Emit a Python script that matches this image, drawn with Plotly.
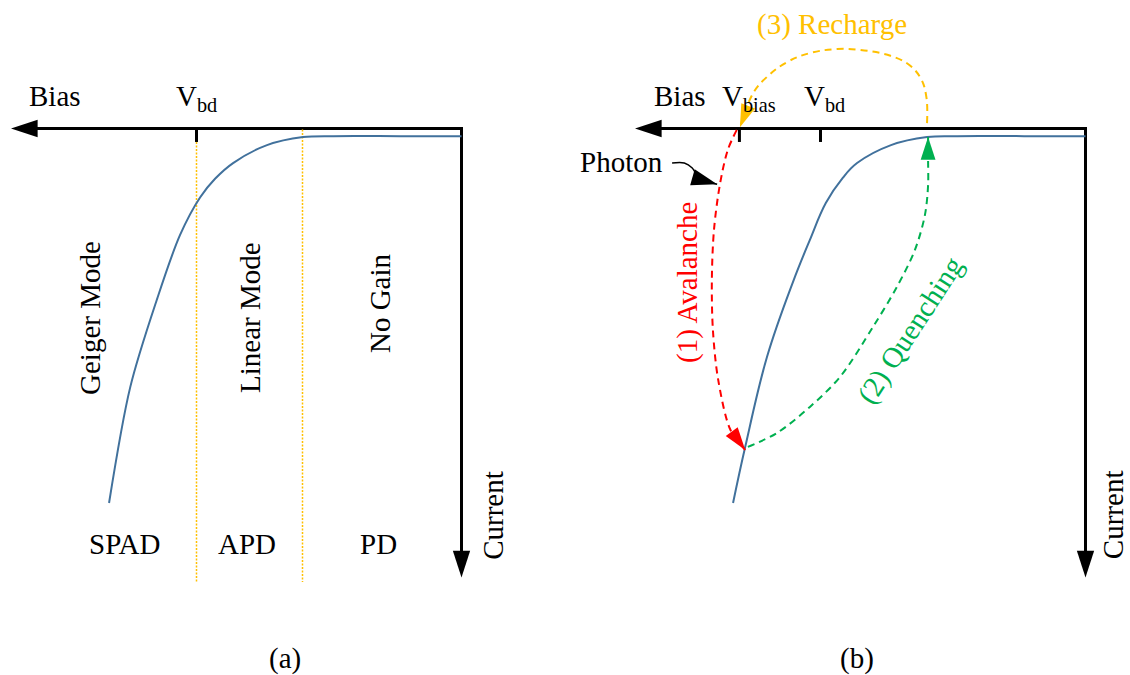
import plotly.graph_objects as go

# ---------------- data (bias / current in arbitrary units) ----------------
BIAS_AXIS_END = 8.5          # arrow tip of the Bias axis
CURRENT_AXIS_END = 10.0      # arrow tip of the Current axis
V_BD = 5.0                   # breakdown voltage
V_BIAS = 6.53                # operating bias of the SPAD (panel b)
APD_PD_EDGE = 3.0            # boundary between linear mode and no gain
TICK_LEN = 0.3
REGION_LINE_END = 10.1

# I-V curve, panel (a)
IV_BIAS_A = [0.0, 1.16, 2.42, 2.99, 3.67, 4.31, 4.65, 4.93, 5.31, 5.75, 6.25, 6.65]
IV_CURRENT_A = [0.17, 0.17, 0.17, 0.19, 0.37, 0.77, 1.12, 1.53, 2.37, 3.82, 5.76, 8.34]
# I-V curve, panel (b)
IV_BIAS_B = [0.0, 1.16, 2.42, 2.99, 3.67, 4.31, 4.58, 4.90, 5.20, 5.52, 6.01, 6.42, 6.65]
IV_CURRENT_B = [0.17, 0.17, 0.17, 0.19, 0.37, 0.77, 1.10, 1.66, 2.48, 3.42, 5.09, 7.09, 8.34]

# (1) Avalanche path
AVAL_BIAS = [6.58, 6.75, 6.90, 7.01, 7.05, 7.03, 6.93, 6.70, 6.42]
AVAL_CURRENT = [0.03, 0.48, 1.26, 2.26, 3.37, 4.49, 5.60, 6.71, 7.16]
# (2) Quenching path
QUENCH_BIAS = [6.37, 5.82, 5.20, 4.63, 4.01, 3.56, 3.22, 3.03, 2.97, 2.97, 2.97]
QUENCH_CURRENT = [7.09, 6.78, 6.20, 5.53, 4.42, 3.53, 2.71, 1.93, 1.26, 0.70, 0.19]
# (3) Recharge path
RECH_BIAS = [2.99, 3.00, 3.10, 3.33, 3.68, 4.25, 4.69, 5.20, 5.63, 6.01, 6.27, 6.52]
RECH_CURRENT = [-0.12, -0.68, -1.10, -1.42, -1.62, -1.75, -1.77, -1.68, -1.48, -1.15, -0.79, -0.03]
# Photon pointer
PHOTON_BIAS = [7.80, 7.57, 7.42, 7.32, 7.22, 6.95]
PHOTON_CURRENT = [0.77, 0.77, 0.88, 1.06, 1.15, 1.24]

# ---------------- layout constants ----------------
W, H = 1130, 675
PX_PER_BIAS = 53.0
PX_PER_CURRENT = 44.9
ORIGIN_Y = 128.5
ORIGIN_X_A = 461.5
ORIGIN_X_B = 1085.5

FONT = "Liberation Serif, Times New Roman, serif"
FS = 29
BLUE = "#41719C"
GOLD = "#FFC000"
RED = "#FF0000"
GREEN = "#00B050"

fig = go.Figure()


def refs(panel):
    return ("x", "y") if panel == "a" else ("x2", "y2")


def line(xs, ys, panel, color, width, dash=None, shape="linear", head=0, smoothing=0.9):
    xr, yr = refs(panel)
    mode = "lines"
    marker = None
    if head:
        mode = "lines+markers"
        marker = dict(symbol="arrow", size=[0] * (len(xs) - 1) + [head],
                      angleref="previous", color=color, opacity=1,
                      line=dict(width=0))
    fig.add_trace(go.Scatter(
        x=xs, y=ys, mode=mode, xaxis=xr, yaxis=yr, marker=marker,
        line=dict(color=color, width=width, dash=dash, shape=shape, smoothing=smoothing),
        hoverinfo="skip", showlegend=False))


annotations = []


def label(panel, text, x, y, color="black", angle=0, size=FS):
    xr, yr = refs(panel)
    annotations.append(dict(
        x=x, y=y, xref=xr, yref=yr, text=text, showarrow=False,
        textangle=angle, xanchor="center", yanchor="middle", borderpad=0,
        font=dict(family=FONT, size=size, color=color)))


for p in ("a", "b"):
    # axes with arrow heads
    line([0, BIAS_AXIS_END], [0, 0], p, "black", 3, head=28)
    line([0, 0], [-0.035, CURRENT_AXIS_END], p, "black", 3, head=28)
    # V_bd tick
    line([V_BD, V_BD], [0, TICK_LEN], p, "black", 3)

# panel (a) region separators
line([V_BD, V_BD], [TICK_LEN, REGION_LINE_END], "a", GOLD, 1.5, dash="2px,1.5px")
line([APD_PD_EDGE, APD_PD_EDGE], [0.02, REGION_LINE_END], "a", GOLD, 1.5, dash="2px,1.5px")

# I-V curves
line(IV_BIAS_A, IV_CURRENT_A, "a", BLUE, 2, shape="spline")
line(IV_BIAS_B, IV_CURRENT_B, "b", BLUE, 2, shape="spline", smoothing=1.1)

# panel (b) extras
line([V_BIAS, V_BIAS], [0, TICK_LEN], "b", "black", 3)
line(AVAL_BIAS, AVAL_CURRENT, "b", RED, 2, dash="7px,5px", shape="spline", head=24)
line(QUENCH_BIAS, QUENCH_CURRENT, "b", GREEN, 2, dash="7px,5px", shape="spline", head=24)
line(RECH_BIAS, RECH_CURRENT, "b", GOLD, 2, dash="7px,5px", shape="spline", head=24, smoothing=1.1)
line(PHOTON_BIAS, PHOTON_CURRENT, "b", "black", 1.5, shape="spline", head=27)

# labels, panel (a)
label("a", "Bias", 7.67, -0.73)
label("a", "V<sub>bd</sub>", 5.0, -0.69)
label("a", "Geiger Mode", 7.01, 4.22, angle=-90)
label("a", "Linear Mode", 3.99, 4.22, angle=-90)
label("a", "No Gain", 1.54, 3.89, angle=-90)
label("a", "SPAD", 6.35, 9.25)
label("a", "APD", 4.04, 9.25)
label("a", "PD", 1.56, 9.25)
label("a", "Current", -0.59, 8.61, angle=-90)
label("a", "(a)", 3.33, 11.80)
# labels, panel (b)
label("b", "Bias", 7.65, -0.73)
label("b", "V<sub>bias</sub>", 6.35, -0.69)
label("b", "V<sub>bd</sub>", 4.93, -0.69)
label("b", "(3) Recharge", 4.78, -2.32, color=GOLD)
label("b", "Photon", 8.76, 0.75)
label("b", "(1) Avalanche", 7.50, 3.44, color=RED, angle=-90)
label("b", "(2) Quenching", 3.31, 4.49, color=GREEN, angle=-57)
label("b", "Current", -0.52, 8.61, angle=-90)
label("b", "(b)", 4.31, 11.80)

yr = [(H - ORIGIN_Y) / PX_PER_CURRENT, -ORIGIN_Y / PX_PER_CURRENT]
ax_common = dict(visible=False, showgrid=False, zeroline=False, fixedrange=True)
fig.update_layout(
    width=W, height=H, margin=dict(l=0, r=0, t=0, b=0),
    paper_bgcolor="white", plot_bgcolor="white", showlegend=False,
    xaxis=dict(domain=[0, 0.5], range=[ORIGIN_X_A / PX_PER_BIAS, (ORIGIN_X_A - W / 2) / PX_PER_BIAS], anchor="y", **ax_common),
    yaxis=dict(domain=[0, 1], range=yr, anchor="x", **ax_common),
    xaxis2=dict(domain=[0.5, 1], range=[(ORIGIN_X_B - W / 2) / PX_PER_BIAS, (ORIGIN_X_B - W) / PX_PER_BIAS], anchor="y2", **ax_common),
    yaxis2=dict(domain=[0, 1], range=yr, anchor="x2", **ax_common),
    annotations=annotations,
)

# remove the default 8 px page margin so the figure fills the 1130x675 window
fig.write_html("out.html", config={"displayModeBar": False},
               post_script="document.body.style.margin='0';document.body.style.overflow='hidden';")
